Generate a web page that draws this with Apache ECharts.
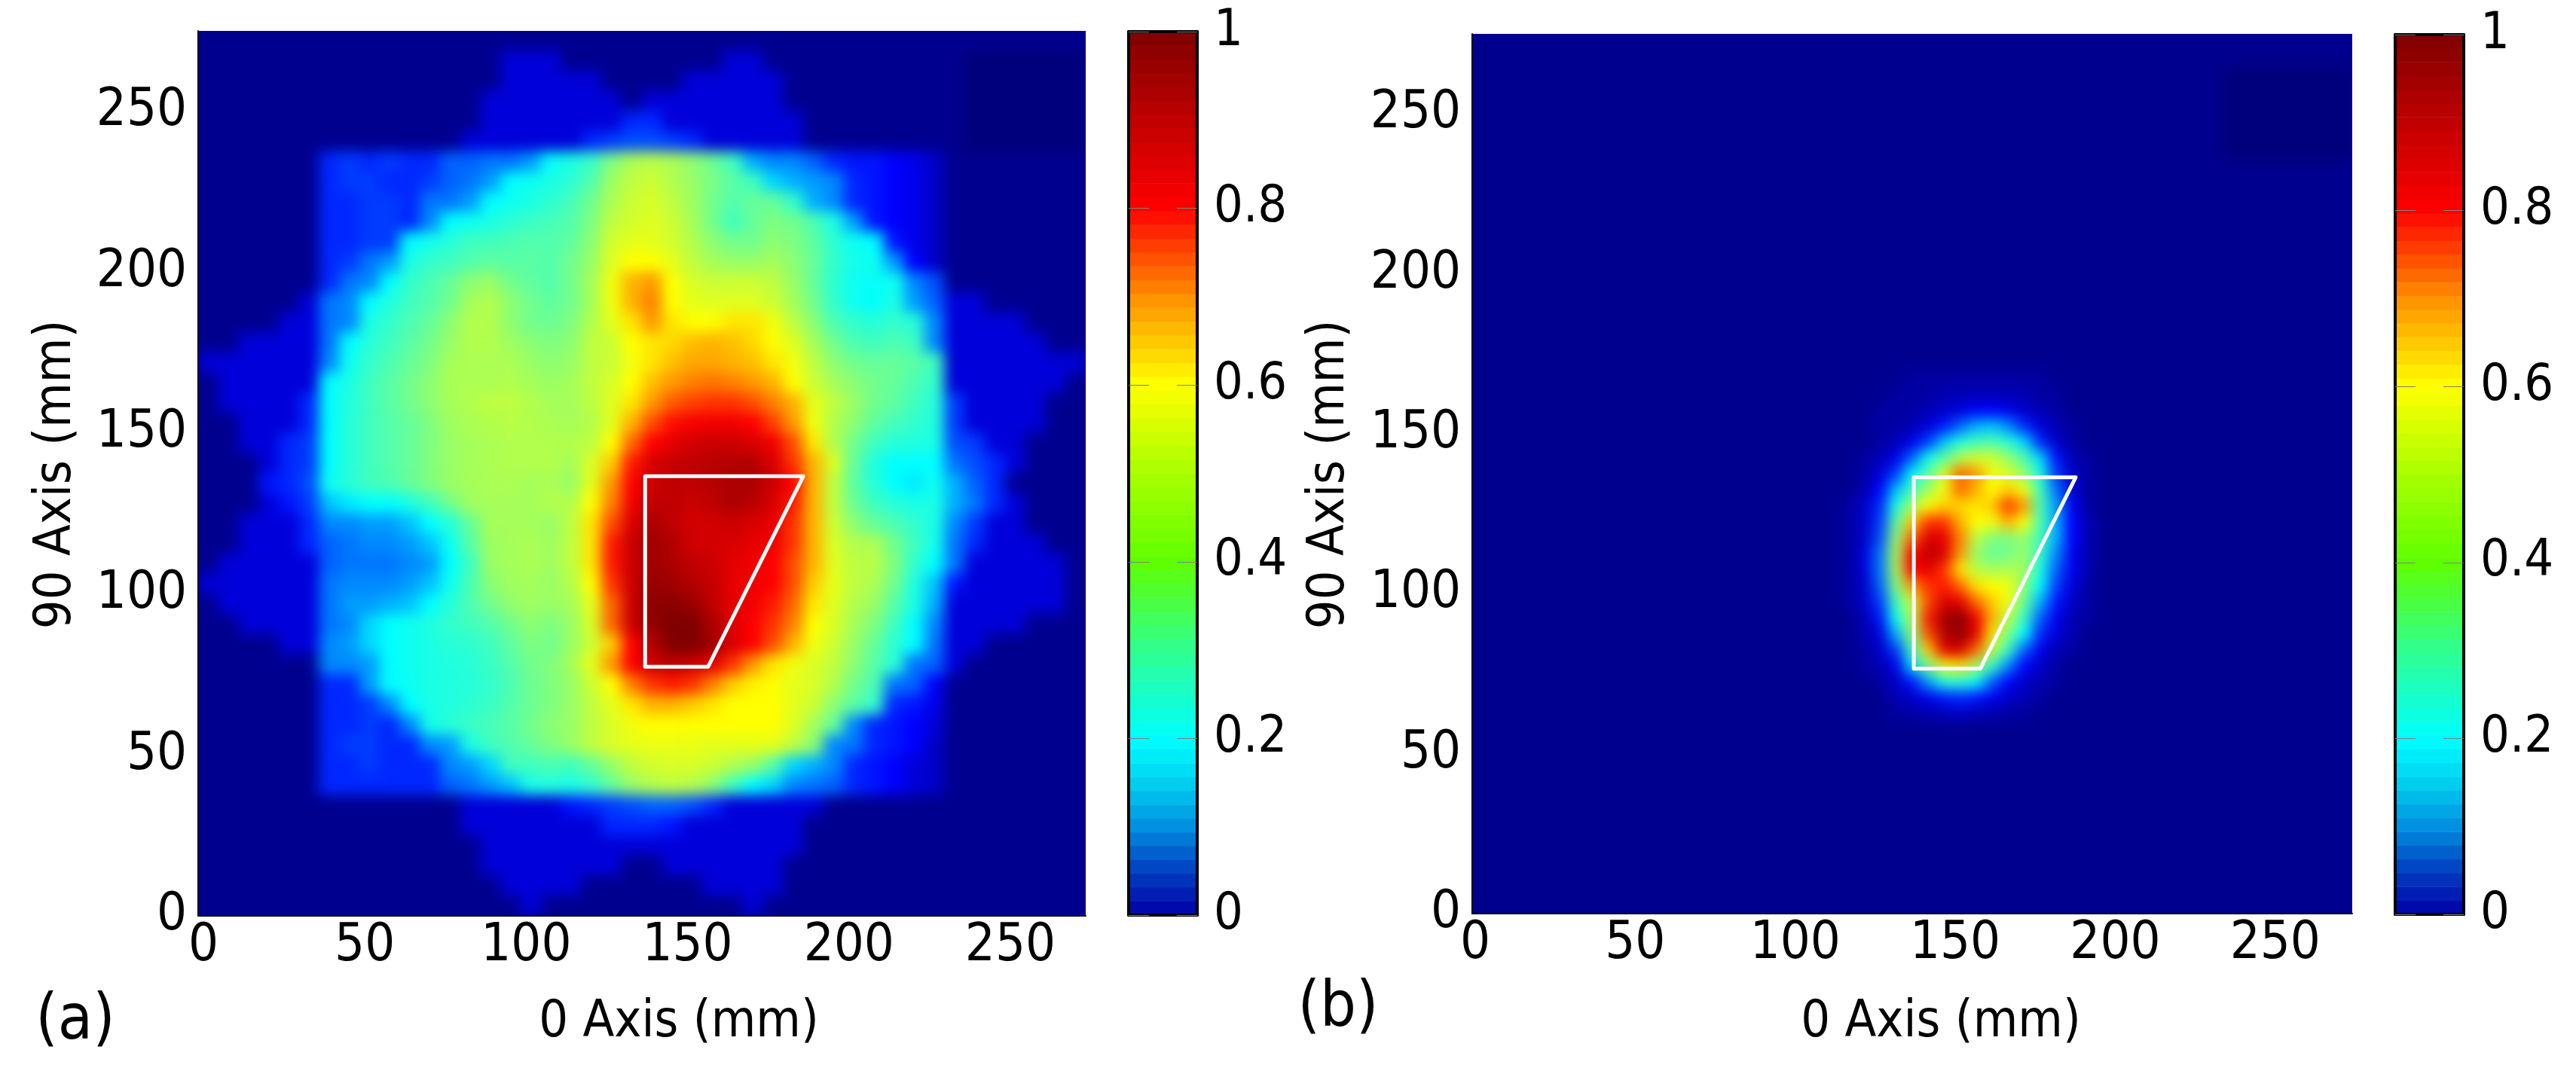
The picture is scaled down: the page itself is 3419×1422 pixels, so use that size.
<!DOCTYPE html>
<html><head><meta charset="utf-8">
<style>html,body{margin:0;padding:0;background:#fff}#c{width:3419px;height:1422px}</style>
<script src="https://cdn.jsdelivr.net/npm/echarts@6/dist/echarts.min.js"></script>
</head><body><div id="c"></div>
<script>
// Panel (a): values in hundredths, top row first, 6.25 mm cells
const panelARows = [
[1,1,1,1,1,1,1,1,1,1,1,1,1,1,1,1,1,1,1,1,1,1,1,1,1,1,1,1,1,1,1,1,1,1,1,1,1,1,1,1,1,1,1,1],
[1,1,1,1,1,1,1,1,1,1,1,1,1,1,1,5,5,5,1,1,1,1,1,1,1,1,5,5,1,1,1,1,1,1,1,1,1,1,0,0,0,0,0,0],
[1,1,1,1,1,1,1,1,1,1,1,1,1,1,1,5,5,5,5,5,1,1,1,1,5,5,5,5,5,1,1,1,1,1,1,1,1,1,0,0,0,0,0,0],
[1,1,1,1,1,1,1,1,1,1,1,1,1,1,5,5,5,5,5,5,5,1,5,5,5,5,5,5,5,1,1,1,1,1,1,1,1,1,0,0,0,0,0,0],
[1,1,1,1,1,1,1,1,1,1,1,1,1,1,5,5,5,5,5,5,5,9,9,5,5,5,5,5,5,5,1,1,1,1,1,1,1,1,0,0,0,0,0,0],
[1,1,1,1,1,1,1,1,1,1,1,1,1,5,5,5,5,5,5,9,10,11,11,10,9,5,5,5,5,5,1,1,1,1,1,1,1,1,0,0,0,0,0,0],
[1,1,1,1,1,1,9,10,9,10,9,9,12,12,13,13,15,21,24,29,40,47,49,47,43,37,30,16,14,14,12,9,8,8,7,6,4,1,1,1,1,1,1,1],
[1,1,1,1,1,1,9,10,10,9,9,10,12,13,15,20,22,24,27,33,45,50,52,48,44,39,34,30,18,16,15,14,9,8,7,6,4,1,1,1,1,1,1,1],
[1,1,1,1,1,1,9,9,10,10,9,13,13,15,20,22,24,27,31,38,47,52,54,50,45,38,33,36,36,28,16,14,9,8,7,6,4,1,1,1,1,1,1,1],
[1,1,1,1,1,1,9,9,10,10,9,14,20,22,24,27,29,31,33,40,50,53,55,52,46,38,30,36,40,38,32,24,15,8,7,6,4,1,1,1,1,1,1,1],
[1,1,1,1,1,1,9,9,10,10,20,23,26,30,30,32,33,33,35,42,53,56,56,53,48,42,38,38,42,40,35,27,22,20,8,6,4,1,1,1,1,1,1,1],
[1,1,1,1,1,1,9,10,13,15,24,28,30,33,35,34,34,33,38,44,55,60,60,56,50,46,44,44,46,42,36,28,23,22,15,7,4,1,1,1,1,1,1,1],
[1,1,1,1,1,1,9,13,14,20,28,32,36,42,44,38,35,33,38,46,58,66,68,60,54,52,52,52,50,44,36,27,22,21,22,14,11,1,1,1,1,1,1,1],
[1,1,1,1,1,5,13,14,20,25,30,33,38,46,48,42,38,35,38,46,58,66,70,60,56,55,55,55,52,46,38,28,22,20,24,15,12,5,5,1,1,1,1,1],
[1,1,1,1,5,5,13,14,24,28,32,36,42,48,48,42,38,37,40,48,56,62,68,62,60,60,62,62,58,50,42,32,28,26,28,26,14,5,5,5,5,1,1,1],
[1,1,5,5,5,5,13,20,26,30,34,38,44,48,48,45,42,40,42,50,52,60,62,63,65,66,65,63,60,55,46,38,32,30,32,30,14,5,5,5,5,5,1,1],
[5,5,5,5,5,5,14,22,28,32,36,40,46,47,47,47,44,42,44,50,52,58,62,65,67,67,66,65,62,58,50,42,38,36,36,34,30,5,5,5,5,5,5,5],
[1,5,5,5,5,5,20,24,30,34,38,42,47,47,47,48,46,44,46,50,54,60,65,68,70,71,70,68,66,60,52,46,42,38,36,32,28,5,5,5,5,5,5,1],
[1,5,5,5,5,9,20,25,30,34,38,42,46,48,50,50,48,46,46,50,55,62,68,73,75,76,76,74,70,66,56,50,44,38,35,30,26,10,5,5,5,5,1,1],
[1,1,5,5,5,9,20,26,30,33,36,40,45,47,48,49,48,47,46,48,56,66,74,79,81,82,82,80,75,68,58,48,42,35,31,28,25,10,5,5,5,5,1,1],
[1,1,5,5,9,10,20,26,30,33,36,40,44,46,47,48,48,48,48,50,60,72,80,84,87,88,88,86,82,74,62,48,38,30,26,25,24,11,10,5,5,1,1,1],
[1,1,1,5,9,10,20,26,30,33,36,40,44,46,47,48,48,48,46,54,64,78,86,89,90,91,92,92,86,76,66,54,36,25,20,20,20,13,11,9,5,1,1,1],
[1,1,1,8,9,11,22,26,30,32,36,40,44,46,47,47,46,47,44,56,68,80,88,90,90,91,93,93,88,80,66,50,35,26,20,19,22,16,12,9,1,1,1,1],
[1,1,1,5,8,10,17,19,20,20,24,30,38,45,46,46,46,48,48,60,70,82,90,90,88,90,93,91,86,78,66,50,37,30,26,24,24,16,13,9,5,1,1,1],
[1,1,5,5,5,9,14,14,15,15,17,20,26,36,46,46,46,44,50,62,74,86,93,90,87,87,88,86,83,76,66,52,42,36,32,28,24,14,10,5,5,1,1,1],
[1,1,5,5,5,9,12,13,14,14,15,17,22,34,45,46,47,45,50,62,78,88,95,92,87,87,86,84,82,76,66,54,48,47,38,30,23,13,9,5,5,5,1,1],
[1,5,5,5,5,5,12,13,13,13,14,15,20,30,44,46,47,45,50,62,78,88,95,93,90,88,84,82,80,74,66,55,50,49,40,28,20,13,5,5,5,5,5,1],
[5,5,5,5,5,5,13,14,14,14,15,17,22,32,42,45,46,44,48,60,76,88,96,95,92,89,84,82,80,74,64,56,50,47,38,25,17,8,5,5,5,5,5,1],
[1,5,5,5,5,5,13,15,15,16,17,20,26,32,38,43,45,44,46,56,72,88,98,98,96,90,84,82,78,72,62,55,48,44,34,24,16,5,5,5,5,5,5,1],
[1,1,5,5,5,5,13,14,18,20,22,25,28,30,33,38,42,40,44,54,72,88,97,100,100,93,85,80,76,70,60,54,46,40,30,20,14,5,5,5,5,1,1,1],
[1,1,1,1,5,5,14,15,18,20,22,24,26,27,30,35,40,38,44,52,64,80,92,100,100,95,86,80,74,66,58,52,44,36,27,20,13,5,5,1,1,1,1,1],
[1,1,1,1,1,1,14,14,15,20,22,24,25,26,29,33,38,40,46,56,68,80,88,90,88,84,76,68,62,58,54,50,42,34,26,13,12,5,1,1,1,1,1,1],
[1,1,1,1,1,1,9,9,15,20,22,24,25,26,28,32,37,40,44,52,60,70,76,78,76,70,64,61,60,56,54,48,38,32,13,12,7,1,1,1,1,1,1,1],
[1,1,1,1,1,1,9,9,10,14,20,24,25,27,29,33,37,40,44,50,56,62,66,66,64,62,60,60,60,56,52,42,34,28,9,8,6,1,1,1,1,1,1,1],
[1,1,1,1,1,1,9,9,10,9,14,23,26,29,31,34,38,42,44,50,54,58,60,60,60,60,60,60,60,55,46,36,14,9,8,7,5,1,1,1,1,1,1,1],
[1,1,1,1,1,1,9,10,10,9,9,14,15,24,30,33,36,40,44,50,54,56,57,57,57,56,56,56,56,50,42,14,13,9,8,7,4,1,1,1,1,1,1,1],
[1,1,1,1,1,1,9,9,10,9,9,9,14,15,18,30,30,32,30,36,44,50,53,54,54,52,48,44,34,18,16,14,9,8,7,5,4,1,1,1,1,1,1,1],
[1,1,1,1,1,1,9,9,9,9,9,9,12,13,15,17,24,25,24,28,36,44,48,50,48,42,30,20,18,14,13,12,9,8,7,5,4,1,1,1,1,1,1,1],
[1,1,1,1,1,1,1,1,1,1,1,1,1,5,5,5,5,5,8,9,10,11,12,12,11,9,5,5,5,5,5,1,1,1,1,1,1,1,1,1,1,1,1,1],
[1,1,1,1,1,1,1,1,1,1,1,1,1,5,5,5,5,5,5,5,9,9,9,8,5,5,5,5,5,5,1,1,1,1,1,1,1,1,1,1,1,1,1,1],
[1,1,1,1,1,1,1,1,1,1,1,1,1,1,5,5,5,5,5,5,5,5,5,5,5,5,5,5,5,5,1,1,1,1,1,1,1,1,1,1,1,1,1,1],
[1,1,1,1,1,1,1,1,1,1,1,1,1,1,5,5,5,5,5,5,5,1,1,5,5,5,5,5,5,1,1,1,1,1,1,1,1,1,1,1,1,1,1,1],
[1,1,1,1,1,1,1,1,1,1,1,1,1,1,1,5,5,5,5,1,1,1,1,1,1,5,5,5,5,1,1,1,1,1,1,1,1,1,1,1,1,1,1,1],
[1,1,1,1,1,1,1,1,1,1,1,1,1,1,1,1,5,1,1,1,1,1,1,1,1,1,1,5,1,1,1,1,1,1,1,1,1,1,1,1,1,1,1,1]
];
// Panel (b): hot spot in hundredths, 5 mm cells, rows y=167.5 down to 62.5, cols x=117.5 to 197.5
const panelBHotRows = [
[1,1,1,1,2,2,2,2,2,2,2,2,2,1,1,1,1],
[1,1,1,2,2,2,3,3,3,3,3,3,2,2,1,1,1],
[1,1,2,2,2,3,4,5,7,7,6,4,3,2,1,1,1],
[1,1,2,2,3,5,8,12,16,17,14,9,5,3,2,1,1],
[1,1,2,3,6,10,17,25,30,32,26,18,9,4,2,1,1],
[1,2,3,6,12,22,34,48,54,52,44,32,18,8,3,2,1],
[1,2,5,10,20,34,54,72,68,58,54,44,24,10,4,2,1],
[1,3,7,17,30,46,58,72,66,60,64,58,30,13,5,2,1],
[2,4,9,24,46,60,64,63,62,64,76,68,32,15,6,2,1],
[2,4,10,34,64,76,76,66,60,58,66,60,32,16,7,3,1],
[2,4,11,42,72,86,84,70,50,40,40,44,30,16,7,3,1],
[2,5,13,46,80,90,86,68,44,36,38,44,28,14,6,3,1],
[2,5,13,46,80,84,76,62,50,46,48,46,24,12,6,3,1],
[2,4,12,40,68,76,78,72,62,60,58,42,20,10,5,2,1],
[2,4,10,30,52,74,86,84,72,64,58,36,16,8,4,2,1],
[1,3,8,22,48,78,94,98,82,66,50,28,12,6,3,2,1],
[1,3,5,16,42,74,92,98,84,62,40,20,9,5,3,1,1],
[1,2,4,10,30,64,84,86,72,50,28,12,6,3,2,1,1],
[1,2,3,6,18,38,58,62,46,28,14,7,4,2,1,1,1],
[1,1,2,4,8,15,24,26,20,12,7,4,3,2,1,1,1],
[1,1,1,3,4,6,8,9,8,6,4,3,2,1,1,1,1],
[1,1,1,2,2,3,3,4,3,3,2,2,1,1,1,1,1]
];
const hotFirstCol = 23, hotTopRow = 33;   // position of the table inside the 55x55 grid (rows counted from y=0)
const panelBGridSize = 55, panelBBase = 1, panelBDark = 0;
const darkCols = [47,54], darkRows = [47,52];
// colour bar levels (64 steps)
const barLevels = [.008,.023,.039,.055,.070,.086,.102,.117,.133,.148,.164,.180,.195,.211,.227,.242,.258,.273,.289,.305,.320,.336,.352,.367,.383,.398,.414,.430,.445,.461,.477,.492,.508,.523,.539,.555,.570,.586,.602,.617,.633,.648,.664,.680,.695,.711,.727,.742,.758,.773,.789,.805,.820,.836,.852,.867,.883,.898,.914,.930,.945,.961,.977,.992];
// white outlines [x,y] in mm
const outlineA = [[138.5,136.6],[187.5,136.6],[158,77.4],[138.5,77.4],[138.5,136.6]];
const outlineB = [[138,136.4],[188.6,136.4],[158.8,76.6],[138,76.6],[138,136.4]];
const axisMax = 275, axisStep = 50, barStep = 0.2;
const heatAnchors = [[0,'#00007c'],[.01,'#00008f'],[.07,'#0000ff'],[.2,'#00ffff'],[.4,'#7fff7f'],[.6,'#ffff00'],[.7,'#ff8000'],[.8,'#ff0000'],[1,'#800000']];
const barAnchors = [[0,'#0000a8'],[.05,'#0040c0'],[.1,'#0090e0'],[.15,'#00d0f0'],[.2,'#00ffff'],[.3,'#30ff90'],[.4,'#60ff00'],[.5,'#a8ff00'],[.6,'#ffff00'],[.7,'#ff9000'],[.8,'#ff0000'],[.9,'#c00000'],[1,'#800000']];

function ramp(anchors){
  const hex=c=>[1,3,5].map(k=>parseInt(c.substr(k,2),16)), out=[];
  for(let s=0;s<=200;s++){
    const t=s/200; let k=0; while(k<anchors.length-2&&t>anchors[k+1][0])k++;
    const [a,ca]=anchors[k],[b,cb]=anchors[k+1],u=Math.min(1,Math.max(0,(t-a)/(b-a))),A=hex(ca),B=hex(cb);
    out.push('rgb('+A.map((v,i)=>Math.round(v+(B[i]-v)*u)).join(',')+')');
  }
  return out;
}
const dataA=[]; panelARows.forEach((row,r)=>row.forEach((v,c)=>dataA.push([c,panelARows.length-1-r,v/100])));
const gridB=[]; for(let y=0;y<panelBGridSize;y++){const row=[];for(let x=0;x<panelBGridSize;x++){
  row.push(x>=darkCols[0]&&x<=darkCols[1]&&y>=darkRows[0]&&y<=darkRows[1]?panelBDark:panelBBase);}gridB.push(row);}
panelBHotRows.forEach((row,r)=>row.forEach((v,c)=>{gridB[hotTopRow-r][hotFirstCol+c]=v;}));
const dataB=[]; gridB.forEach((row,y)=>row.forEach((v,x)=>dataB.push([x,y,v/100])));
const dataBar=barLevels.map((v,i)=>[0,i,v]);
const cats=n=>Array.from({length:n},(_,i)=>String(i));

const tickFont='"Liberation Sans Narrow","DejaVu Sans Condensed",sans-serif', textFont='"DejaVu Sans Condensed","DejaVu Sans",sans-serif';
const blackLine={show:true,onZero:false,lineStyle:{color:'#000',width:2}};
const hidden={show:false};
const plots=[
 {left:263,top:41,width:1178,height:1175,rows:44,pad:14},
 {left:1954,top:45,width:1168,height:1168,rows:55,pad:8}];
const bars=[{left:1498,top:42,width:91,height:1173},{left:3179,top:46,width:91,height:1168}];
const grids=[],xAxes=[],yAxes=[],series=[];
function addPanel(p,data,line,barG){
  const gi=grids.length; grids.push({left:p.left,top:p.top,width:p.width,height:p.height,show:false});
  const xc=xAxes.length; xAxes.push({type:'category',gridIndex:gi,data:cats(p.rows),show:false});
  const xv=xAxes.length; xAxes.push({type:'value',gridIndex:gi,min:0,max:axisMax,interval:axisStep,position:'bottom',zlevel:1,z:5,
    axisLine:blackLine,axisTick:hidden,splitLine:hidden,
    axisLabel:{fontFamily:tickFont,fontSize:70,color:'#000',margin:6,padding:[0,0,0,p.pad],showMaxLabel:false}});
  const yc=yAxes.length; yAxes.push({type:'category',gridIndex:gi,data:cats(p.rows),show:false});
  const yv=yAxes.length; yAxes.push({type:'value',gridIndex:gi,min:0,max:axisMax,interval:axisStep,position:'left',zlevel:1,z:5,
    axisLine:blackLine,axisTick:hidden,splitLine:hidden,
    axisLabel:{fontFamily:tickFont,fontSize:70,color:'#000',margin:15,showMaxLabel:false}});
  series.push({type:'heatmap',xAxisIndex:xc,yAxisIndex:yc,data,progressive:0,animation:false,zlevel:0,itemStyle:{borderWidth:0}});
  series.push({type:'line',xAxisIndex:xv,yAxisIndex:yv,data:line,symbol:'none',zlevel:1,z:4,silent:true,animation:false,
    lineStyle:{color:'#fff',width:5,join:'round',cap:'round'}});
  // colour bar
  const gb=grids.length; grids.push({left:barG.left,top:barG.top,width:barG.width,height:barG.height,show:false});
  const border={show:true,onZero:false,lineStyle:{color:'#000',width:4}};
  const bxc=xAxes.length; xAxes.push({type:'category',gridIndex:gb,data:['0'],position:'bottom',zlevel:1,z:5,axisLine:border,axisTick:hidden,axisLabel:hidden});
  xAxes.push({type:'category',gridIndex:gb,data:['0'],position:'top',zlevel:1,z:5,axisLine:border,axisTick:hidden,axisLabel:hidden});
  const byc=yAxes.length; yAxes.push({type:'category',gridIndex:gb,data:cats(barLevels.length),show:false});
  yAxes.push({type:'value',gridIndex:gb,min:0,max:1,interval:barStep,position:'right',zlevel:1,z:5,axisLine:border,splitLine:hidden,
    axisTick:{show:true,inside:true,length:27,lineStyle:{color:'#808080',width:1}},
    axisLabel:{fontFamily:textFont,fontSize:68,color:'#000',margin:22}});
  yAxes.push({type:'value',gridIndex:gb,min:0,max:1,interval:barStep,position:'left',zlevel:1,z:5,axisLine:border,splitLine:hidden,
    axisTick:{show:true,inside:true,length:27,lineStyle:{color:'#808080',width:1}},axisLabel:hidden});
  series.push({type:'heatmap',xAxisIndex:bxc,yAxisIndex:byc,data:dataBar,progressive:0,animation:false,zlevel:1,z:2,itemStyle:{borderWidth:0}});
}
addPanel(plots[0],dataA,outlineA,bars[0]);
addPanel(plots[1],dataB,outlineB,bars[1]);

const txt=(text,x,y,rot,size)=>({type:'text',zlevel:1,x,y,rotation:rot||0,style:{text,font:(size||68)+'px '+textFont,fill:'#000',textAlign:'center',textVerticalAlign:'middle'}});
const under=p=>({type:'rect',zlevel:0,z:-1,shape:{x:p.left-50,y:p.top-50,width:p.width+100,height:p.height+100},style:{fill:'#00008f'}});
const chart=echarts.init(document.getElementById('c'),null,{renderer:'canvas'});
chart.setOption({
  animation:false,backgroundColor:'#fff',
  grid:grids,xAxis:xAxes,yAxis:yAxes,series,
  visualMap:[
   {type:'continuous',show:false,min:0,max:1,seriesIndex:[0,3],inRange:{color:ramp(heatAnchors)}},
   {type:'continuous',show:false,min:0,max:1,seriesIndex:[2,5],inRange:{color:ramp(barAnchors)}}],
  graphic:[
    under(plots[0]),under(plots[1]),
    txt('0 Axis (mm)',901,1358),txt('0 Axis (mm)',2576,1358),
    txt('90 Axis (mm)',75,630,Math.PI/2),txt('90 Axis (mm)',1765,630,Math.PI/2),
    txt('(a)',100,1357,0,84),txt('(b)',1776,1340,0,84)]
});
// The reference field is a smoothed image: soften the cell layer only, keeping it inside the two plot frames.
const rectPath=p=>`M${p.left} ${p.top}H${p.left+p.width}V${p.top+p.height}H${p.left}Z`;
const soften=()=>{const cv=chart.getDom().querySelector('canvas');
  cv.style.filter='blur(9px)';cv.style.clipPath=`path('${rectPath(plots[0])} ${rectPath(plots[1])}')`;};
soften();chart.on('finished',soften);
</script></body></html>
